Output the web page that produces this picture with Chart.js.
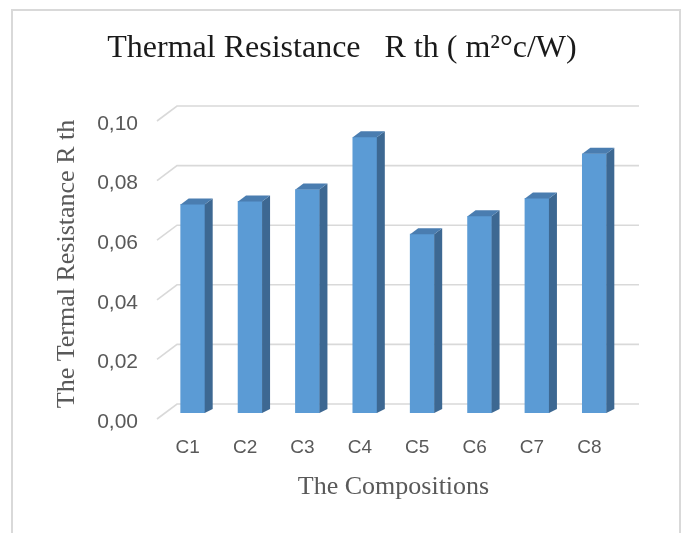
<!DOCTYPE html>
<html>
<head>
<meta charset="utf-8">
<script src="https://cdn.jsdelivr.net/npm/chart.js@4"></script>
<style>
html,body{margin:0;padding:0;background:#fff;}
#wrap{width:684px;height:533px;position:relative;}
</style>
</head>
<body>
<div id="wrap"><canvas id="c" width="684" height="533"></canvas></div>
<script>
const categories = ['C1','C2','C3','C4','C5','C6','C7','C8'];
const rthValues = [0.070, 0.071, 0.075, 0.0925, 0.060, 0.066, 0.072, 0.087];
const yTicks = [0, 0.02, 0.04, 0.06, 0.08, 0.10];

const DX = 8, DY = 6;

const framePlugin = {
  id: 'frame',
  beforeDraw(chart) {
    const ctx = chart.ctx;
    ctx.save();
    ctx.fillStyle = '#fff';
    ctx.fillRect(0, 0, chart.width, chart.height);
    ctx.strokeStyle = '#d9d9d9';
    ctx.lineWidth = 2;
    ctx.strokeRect(12, 10, 668, 560);
    ctx.restore();
  }
};

const gridPlugin = {
  id: 'grid3d',
  beforeDatasetsDraw(chart) {
    const ctx = chart.ctx;
    const y = chart.scales.y;
    ctx.save();
    ctx.strokeStyle = '#d9d9d9';
    ctx.lineWidth = 1.6;
    yTicks.forEach(v => {
      const py = y.getPixelForValue(v);
      ctx.beginPath();
      ctx.moveTo(157, py + 6);
      ctx.lineTo(177, py - 9);
      ctx.lineTo(639, py - 9);
      ctx.stroke();
    });
    ctx.restore();
  }
};

const barPlugin = {
  id: 'bar3d',
  afterDatasetsDraw(chart) {
    const ctx = chart.ctx;
    const meta = chart.getDatasetMeta(0);
    ctx.save();
    meta.data.forEach(bar => {
      const p = bar.getProps(['x','y','base','width'], true);
      const L = p.x - p.width / 2, R = p.x + p.width / 2;
      const T = p.y, B = p.base;
      ctx.fillStyle = '#3d6892';
      ctx.beginPath();
      ctx.moveTo(R, T);
      ctx.lineTo(R + DX, T - DY);
      ctx.lineTo(R + DX, B - 4);
      ctx.lineTo(R, B);
      ctx.closePath();
      ctx.fill();
      ctx.fillStyle = '#4a7db0';
      ctx.beginPath();
      ctx.moveTo(L, T);
      ctx.lineTo(L + DX, T - DY);
      ctx.lineTo(R + DX, T - DY);
      ctx.lineTo(R, T);
      ctx.closePath();
      ctx.fill();
    });
    ctx.restore();
  }
};

new Chart(document.getElementById('c'), {
  type: 'bar',
  data: {
    labels: categories,
    datasets: [{
      data: rthValues,
      backgroundColor: '#5b9bd5',
      borderWidth: 0,
      barThickness: 24
    }]
  },
  options: {
    responsive: false,
    animation: false,
    devicePixelRatio: 1,
    layout: { padding: 0 },
    plugins: {
      legend: { display: false },
      tooltip: { enabled: false },
      title: {
        display: true,
        text: 'Thermal Resistance   R th ( m²°c/W)',
        color: '#1a1a1a',
        font: { family: '"Liberation Serif", "Times New Roman", serif', size: 32, weight: 'normal' },
        padding: { top: 29, bottom: 47.6 }
      }
    },
    scales: {
      x: {
        grid: { display: false, drawTicks: false },
        border: { display: false },
        ticks: {
          color: '#595959',
          font: { family: '"Liberation Sans", Arial, sans-serif', size: 19 },
          padding: 23,
          labelOffset: -5,
          maxRotation: 0
        },
        title: {
          display: true,
          text: 'The Compositions',
          color: '#595959',
          font: { family: '"Liberation Serif", "Times New Roman", serif', size: 26 },
          padding: { top: 30, bottom: 30 }
        },
        afterFit(s) { s.height = 120; }
      },
      y: {
        min: 0,
        max: 0.10,
        grid: { display: false, drawTicks: false },
        border: { display: false },
        afterBuildTicks(s) { s.ticks = yTicks.map(v => ({ value: v })); },
        ticks: {
          color: '#595959',
          font: { family: '"Liberation Sans", Arial, sans-serif', size: 21 },
          padding: 26,
          labelOffset: 9,
          callback: v => v.toFixed(2).replace('.', ',')
        },
        title: {
          display: true,
          text: 'The Termal Resistance R th',
          color: '#595959',
          font: { family: '"Liberation Serif", "Times New Roman", serif', size: 26 },
          padding: { top: 52, bottom: 0 }
        },
        afterFit(s) { s.width = 164; }
      },
      y2: {
        position: 'right',
        display: true,
        grid: { display: false, drawTicks: false },
        border: { display: false },
        ticks: { display: false },
        afterFit(s) { s.width = 61; }
      }
    }
  },
  plugins: [framePlugin, gridPlugin, barPlugin]
});
</script>
</body>
</html>
